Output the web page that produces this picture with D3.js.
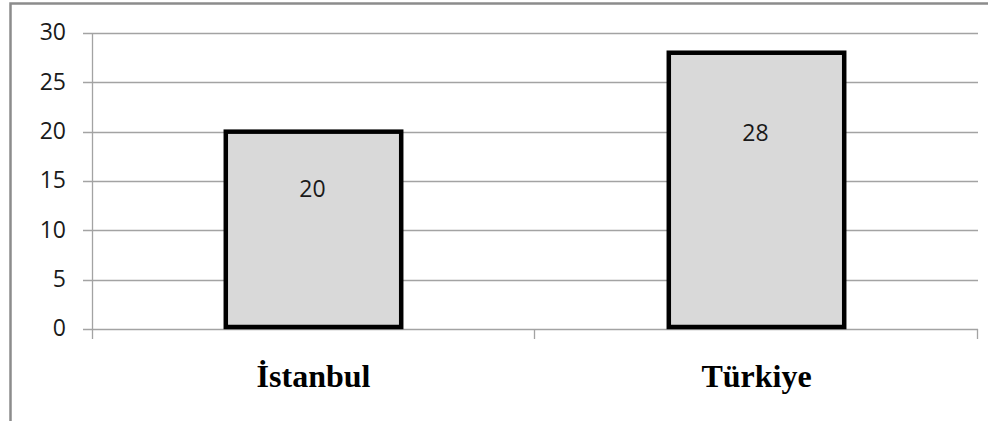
<!DOCTYPE html>
<html>
<head>
<meta charset="utf-8">
<script src="https://cdn.jsdelivr.net/npm/d3@7"></script>
<style>
  html, body { margin: 0; padding: 0; background: #fff; }
  svg { display: block; }
</style>
</head>
<body>
<svg id="chart" width="995" height="421"></svg>
<script>
// Chart data
const categories = ["İstanbul", "Türkiye"];
const values = [20, 28];
const yTicks = [0, 5, 10, 15, 20, 25, 30];

const svg = d3.select("#chart");
const W = 995, H = 421;
const plot = { left: 92, right: 978, top: 33, bottom: 329 };

// Outer frame (top and left edges visible)
svg.append("path")
  .attr("d", `M10.5,${H} V3.5 H988`)
  .attr("fill", "none")
  .attr("stroke", "#8c8c8c")
  .attr("stroke-width", 2.5);

const x = d3.scaleBand()
  .domain(categories)
  .range([plot.left, plot.right])
  .paddingInner(0)
  .paddingOuter(0);

const y = d3.scaleLinear()
  .domain([0, 30])
  .range([plot.bottom, plot.top]);

const gridColor = "#a3a3a3";
const labelFont = "'Open Sans', 'DejaVu Sans', sans-serif";

// Horizontal gridlines with left tick marks
svg.append("g")
  .selectAll("line")
  .data(yTicks)
  .join("line")
  .attr("x1", plot.left - 9)
  .attr("x2", plot.right)
  .attr("y1", d => Math.round(y(d)) + 0.5)
  .attr("y2", d => Math.round(y(d)) + 0.5)
  .attr("stroke", gridColor)
  .attr("stroke-width", 1.3);

// Y tick labels
svg.append("g")
  .selectAll("text")
  .data(yTicks)
  .join("text")
  .attr("x", 66)
  .attr("y", d => y(d) - 1)
  .attr("dy", "0.36em")
  .attr("text-anchor", "end")
  .attr("font-family", labelFont)
  .attr("font-size", 23)
  .attr("fill", "#1a1a1a")
  .text(d => d);

// Vertical axis line
svg.append("line")
  .attr("x1", plot.left + 0.5).attr("x2", plot.left + 0.5)
  .attr("y1", plot.top).attr("y2", plot.bottom + 10)
  .attr("stroke", gridColor).attr("stroke-width", 1.3);

// Category boundary tick marks below the axis
svg.append("g")
  .selectAll("line")
  .data(categories)
  .join("line")
  .attr("x1", d => Math.round(x(d) + x.bandwidth()) - 0.5)
  .attr("x2", d => Math.round(x(d) + x.bandwidth()) - 0.5)
  .attr("y1", plot.bottom)
  .attr("y2", plot.bottom + 10)
  .attr("stroke", gridColor)
  .attr("stroke-width", 1.3);

// Bars
const barFrac = 0.396;
svg.append("g")
  .selectAll("rect")
  .data(values)
  .join("rect")
  .attr("x", (d, i) => x(categories[i]) + x.bandwidth() * (1 - barFrac) / 2)
  .attr("width", x.bandwidth() * barFrac)
  .attr("y", d => y(d))
  .attr("height", d => y(0) - y(d) - 2)
  .attr("fill", "#d9d9d9")
  .attr("stroke", "#000")
  .attr("stroke-width", 4.5);

// Value labels inside bars
svg.append("g")
  .selectAll("text")
  .data(values)
  .join("text")
  .attr("x", (d, i) => x(categories[i]) + x.bandwidth() / 2 - 1)
  .attr("y", d => y(d * 0.71))
  .attr("dy", "0.36em")
  .attr("text-anchor", "middle")
  .attr("font-family", labelFont)
  .attr("font-size", 23)
  .attr("fill", "#1a1a1a")
  .text(d => d);

// Category labels
svg.append("g")
  .selectAll("text")
  .data(categories)
  .join("text")
  .attr("x", d => x(d) + x.bandwidth() / 2)
  .attr("y", 387)
  .attr("text-anchor", "middle")
  .attr("font-family", "'Liberation Serif', 'Times New Roman', serif")
  .attr("font-weight", "bold")
  .attr("font-size", 32)
  .attr("fill", "#000")
  .text(d => d);
</script>
</body>
</html>
